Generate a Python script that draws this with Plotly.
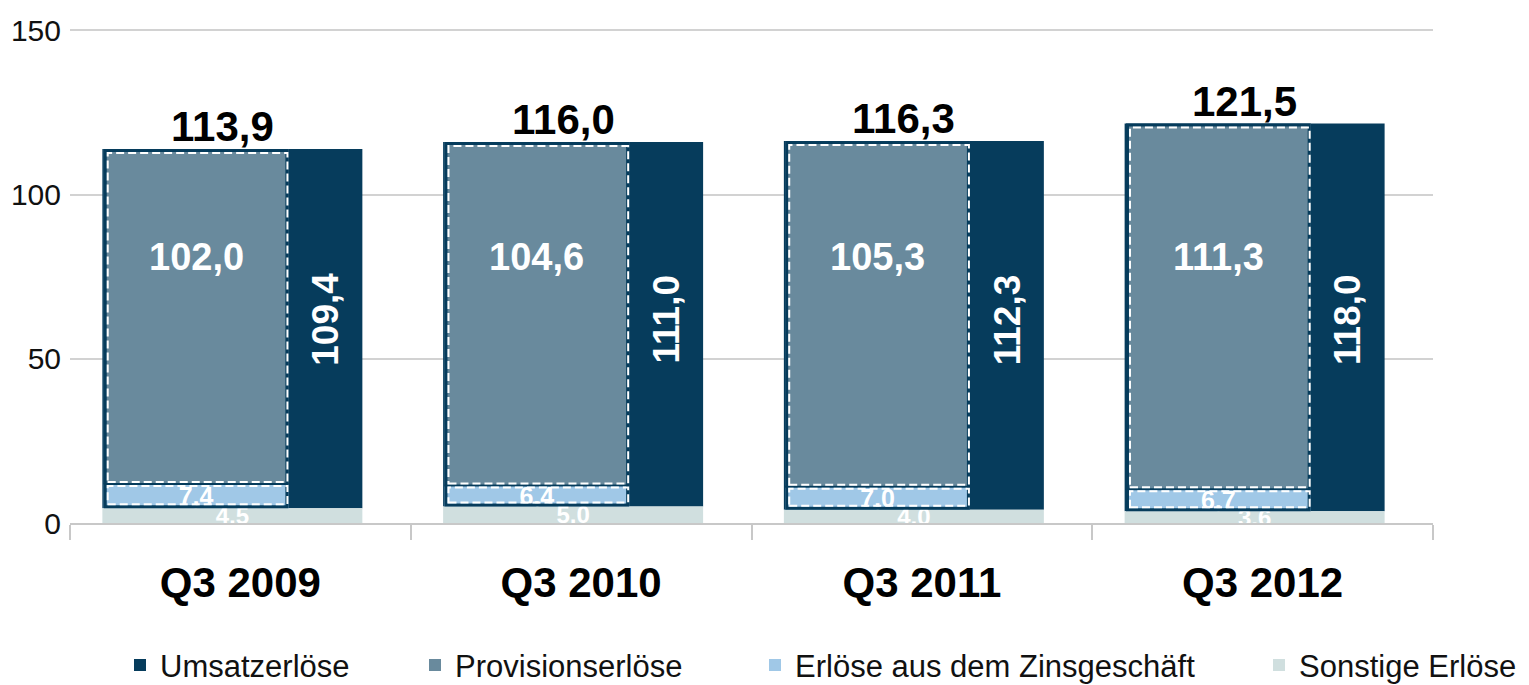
import plotly.graph_objects as go

# ---- data ----
categories = ["Q3 2009", "Q3 2010", "Q3 2011", "Q3 2012"]
umsatz = [109.4, 111.0, 112.3, 118.0]
provision = [102.0, 104.6, 105.3, 111.3]
zins = [7.4, 6.4, 7.0, 6.7]
sonstige = [4.5, 5.0, 4.0, 3.6]
totals = [113.9, 116.0, 116.3, 121.5]

def de(v):
    return f"{v:.1f}".replace(".", ",")

# ---- style ----
FONT = "Liberation Sans, Arial, sans-serif"
C_DARK = "#063c5c"
C_PROV = "#698a9d"
C_ZINS = "#a0c8e7"
C_SONST = "#d0dfdf"
W = 0.763       # main bar width (category units)
OFF = -0.405    # main bar offset
DX = 0.004      # inset of overlay bars
DW = 0.542      # overlay bar width
PX_X = 1 / 340.75
PX_Y = 150 / 493
PROV_LABEL_Y = 81
UMS_LABEL_Y = 62
LEG_TEXT_X = [162, 457, 797, 1301]   # legend text start (page px)
BODY = 8        # default page body margin of the html page

base_ums = sonstige
base_prov = [s + z for s, z in zip(sonstige, zins)]

fig = go.Figure()
fig.add_trace(go.Bar(name="Umsatzerlöse", x=categories, y=umsatz, base=base_ums,
                     width=W, offset=OFF, legend="legend",
                     marker=dict(color=C_DARK, line=dict(width=0))))
fig.add_trace(go.Bar(name="Provisionserlöse", x=categories, y=provision, base=base_prov,
                     width=DW, offset=OFF + DX, legend="legend2",
                     marker=dict(color=C_PROV, line=dict(width=0))))
fig.add_trace(go.Bar(name="Erlöse aus dem Zinsgeschäft", x=categories, y=zins, base=sonstige,
                     width=DW, offset=OFF + DX, legend="legend3",
                     marker=dict(color=C_ZINS, line=dict(width=0)),
                     text=[de(v) for v in zins], textposition="inside", insidetextanchor="middle",
                     textangle=0, constraintext="none",
                     textfont=dict(family=FONT, size=25, color="white", weight=700)))
fig.add_trace(go.Bar(name="Sonstige Erlöse", x=categories, y=sonstige, base=[0] * 4,
                     width=W, offset=OFF, legend="legend4",
                     marker=dict(color=C_SONST, line=dict(width=0)),
                     text=[de(v) for v in sonstige], textposition="inside", insidetextanchor="middle",
                     textangle=0, constraintext="none", cliponaxis=True,
                     textfont=dict(family=FONT, size=24, color="white", weight=700)))

shapes = []
annotations = []
for i in range(len(categories)):
    xa = i + OFF + DX
    xb = xa + DW
    y_bot = sonstige[i]
    y_mid = base_prov[i]
    y_top = base_prov[i] + provision[i]
    bar_right = i + OFF + W
    # dark frame
    shapes.append(dict(type="rect", xref="x", yref="y", layer="above",
                       x0=xa + 1.5 * PX_X, x1=xb - 1.5 * PX_X,
                       y0=y_bot + 1.5 * PX_Y, y1=y_top - 1.5 * PX_Y,
                       line=dict(color=C_DARK, width=3)))
    shapes.append(dict(type="line", xref="x", yref="y", layer="above",
                       x0=xa, x1=xb, y0=y_mid, y1=y_mid,
                       line=dict(color=C_DARK, width=2)))
    # dashed outlines
    shapes.append(dict(type="rect", xref="x", yref="y", layer="above",
                       x0=xa + 4 * PX_X, x1=xb - 1 * PX_X,
                       y0=y_mid + 2 * PX_Y, y1=y_top - 4 * PX_Y,
                       line=dict(color="white", width=2, dash="8px,4px")))
    shapes.append(dict(type="rect", xref="x", yref="y", layer="above",
                       x0=xa + 4 * PX_X, x1=xb - 1 * PX_X,
                       y0=y_bot + 4 * PX_Y, y1=y_mid - 2 * PX_Y,
                       line=dict(color="white", width=2, dash="8px,4px")))
    # labels
    annotations.append(dict(x=i + OFF + W / 2 - 10 * PX_X, y=y_bot + umsatz[i], xref="x", yref="y",
                            text=de(totals[i]), showarrow=False, yanchor="bottom", yshift=-3,
                            font=dict(family=FONT, size=42, color="black", weight=700)))
    annotations.append(dict(x=(xa + xb) / 2, y=PROV_LABEL_Y, xref="x", yref="y",
                            text=de(provision[i]), showarrow=False,
                            font=dict(family=FONT, size=38, color="white", weight=700)))
    annotations.append(dict(x=(xb + bar_right) / 2, y=UMS_LABEL_Y, xref="x", yref="y",
                            text=de(umsatz[i]), showarrow=False, textangle=-90,
                            font=dict(family=FONT, size=37, color="white", weight=700)))

PLOT_L, PLOT_W = 70, 1363
legend_common = dict(orientation="h", xanchor="left", yanchor="middle", y=-0.288,
                     bgcolor="rgba(0,0,0,0)",
                     font=dict(family=FONT, size=31, color="#111111"))
legends = {}
for k, tx in enumerate(LEG_TEXT_X):
    key = "legend" if k == 0 else f"legend{k + 1}"
    legends[key] = dict(legend_common, x=(tx - PLOT_L - 42) / PLOT_W)

fig.update_layout(
    width=1529, height=685,
    margin=dict(l=70 - BODY, r=1529 - 1433 + BODY, t=29 - BODY, b=685 - 523 + BODY,
                autoexpand=False),
    barmode="overlay",
    plot_bgcolor="white", paper_bgcolor="white",
    font=dict(family=FONT, color="#111111"),
    shapes=shapes, annotations=annotations,
    showlegend=True,
    **legends,
    xaxis=dict(type="category", categoryorder="array", categoryarray=categories,
               tickson="boundaries", ticks="outside", ticklen=15, tickcolor="#c8c8c8",
               tickwidth=1.5, showline=True, linecolor="#c8c8c8", linewidth=1.5,
               showgrid=False, ticklabelstandoff=22,
               tickfont=dict(family=FONT, size=42, color="black", weight=700)),
    yaxis=dict(range=[0, 150.4], tickvals=[0, 50, 100, 150], showgrid=True,
               gridcolor="#d2d2d2", gridwidth=1.5, zeroline=False, ticks="",
               showline=False, ticklabelstandoff=8,
               tickfont=dict(family=FONT, size=30, color="#111111")),
)

fig.write_html("out.html")
